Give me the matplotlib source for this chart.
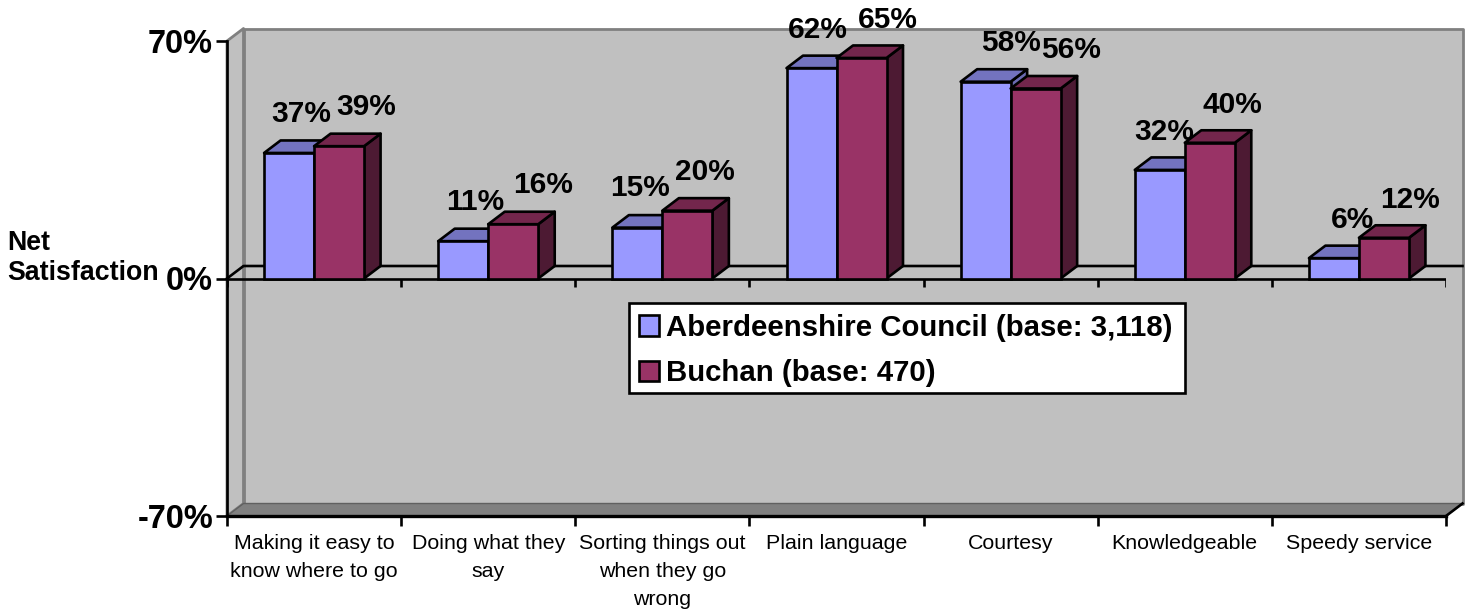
#!/usr/bin/env python3
# -*- coding: utf-8 -*-
import matplotlib
matplotlib.use("Agg")
import matplotlib.pyplot as plt
from matplotlib.patches import Rectangle

plt.rcParams['font.family'] = ['Liberation Sans', 'DejaVu Sans']

# data
categories = ["Making it easy to\nknow where to go", "Doing what they\nsay",
              "Sorting things out\nwhen they go\nwrong", "Plain language",
              "Courtesy", "Knowledgeable", "Speedy service"]
council = [37, 11, 15, 62, 58, 32, 6]
buchan = [39, 16, 20, 65, 56, 40, 12]
series_names = ["Aberdeenshire Council (base: 3,118)", "Buchan (base: 470)"]
yticks = [-70, 0, 70]
ytick_labels = ["-70%", "0%", "70%"]

# label offsets from top-centre of each bar, in pixels
council_offs = [(12, 39), (12, 39), (3, 40), (6, 38), (25, 39), (4, 38), (19, 38)]
buchan_offs = [(27, 39), (30, 39), (18, 39), (26, 38), (35, 38), (23, 38), (26, 38)]

# figure
W, H = 1469, 609
fig = plt.figure(figsize=(W/100, H/100), dpi=100)
ax = fig.add_axes([227/W, 1-516/H, (1446-227)/W, (516-41)/H])
ax.set_xlim(0, 7)
ax.set_ylim(-70, 70)
ax.patch.set_visible(False)

dx = 16.5/(1219/7)      # depth of the fake 3d, in data units
dy = 12.5/(475/140)
width = 50/(1219/7)
lw = 1.9


def face(xs, ys, fc, ec="k", z=3, lw=lw):
    ax.fill(xs, ys, facecolor=fc, edgecolor=ec, linewidth=lw, zorder=z,
            clip_on=False, joinstyle="round")


# walls and floor
wall = "#c0c0c0"
grey = "#808080"
face([dx, 7+dx, 7+dx, dx], [70+dy, 70+dy, -70+dy, -70+dy], wall, grey, 1, 2)
face([0, dx, dx, 0], [-70, -70+dy, 70+dy, 70], wall, grey, 1, 2)
face([0, 7, 7+dx, dx], [-70, -70, -70+dy, -70+dy], grey, "#606060", 1, 1)
ax.plot([7, 7+dx], [-70, -70+dy], color="k", lw=lw, zorder=1.5, clip_on=False)

# zero line, with its ticks
ax.plot([0, dx, 7+dx], [0, dy, dy], color="k", lw=lw, zorder=2, clip_on=False)
ax.plot([0, 7], [0, 0], color="k", lw=lw, zorder=2)
ax.vlines(range(8), -2.5, 0, color="k", lw=lw, zorder=2)

# bars
colors = [("#9999ff", "#7373bf", "#6a6ab0"), ("#993366", "#73264c", "#4d1a33")]
for i in range(7):
    for j, vals in enumerate([council, buchan]):
        x0 = i + 0.5 - width + j*width
        v = vals[i]
        c = colors[j]
        z = 3 + i + j/2
        face([x0+width, x0+width+dx, x0+width+dx, x0+width], [0, dy, v+dy, v], c[2], z=z)
        face([x0, x0+dx, x0+width+dx, x0+width], [v, v+dy, v+dy, v], c[1], z=z)
        ax.bar(x0, v, width, align="edge", color=c[0], edgecolor="k", linewidth=lw,
               zorder=z+0.1, label=series_names[j] if i == 0 else None)
        off = council_offs[i] if j == 0 else buchan_offs[i]
        ax.annotate("%d%%" % v, (x0+width/2, v), xytext=off, textcoords="offset pixels",
                    ha="center", va="center", fontsize=21.5, fontweight="bold",
                    zorder=30, annotation_clip=False)

# axes
for s in ["top", "right"]:
    ax.spines[s].set_visible(False)
for s in ["left", "bottom"]:
    ax.spines[s].set_linewidth(lw)
    ax.spines[s].set_zorder(2)
ax.spines["bottom"].set_linewidth(2.4)
ax.set_yticks(yticks)
ax.set_yticklabels(ytick_labels, fontsize=23.5, fontweight="bold")
ax.tick_params(axis="y", length=8, width=lw, pad=2)
ax.set_xticks(range(8))
ax.set_xticklabels([])
ax.tick_params(axis="x", which="major", length=7, width=lw)
ax.set_xticks([i+0.5 for i in range(7)], minor=True)
ax.set_xticklabels(categories, minor=True, fontsize=15.4, linespacing=1.61)
ax.tick_params(axis="x", which="minor", length=0, pad=13)

ax.set_ylabel("Net\nSatisfaction", rotation=0, ha="left", va="center", ma="left",
              fontsize=19.3, fontweight="bold", linespacing=1.25)
ax.yaxis.set_label_coords((7-227)/1219, (516-258)/475)

# legend, the box is drawn by hand so its height can match
ax.add_patch(Rectangle(((629-227)/1219, (516-393)/475), 556/1219, 90/475, transform=ax.transAxes,
                       facecolor="white", edgecolor="k", linewidth=lw, zorder=19))
leg = ax.legend(loc="upper left", bbox_to_anchor=((629-227)/1219, (516-304)/475),
                prop={"size": 21.2, "weight": "bold"}, frameon=False, borderaxespad=0,
                handlelength=0.68, handleheight=0.68, handletextpad=0.24, labelspacing=0.59,
                borderpad=0.33)
leg.set_zorder(20)

fig.savefig("out.png", dpi=100)
